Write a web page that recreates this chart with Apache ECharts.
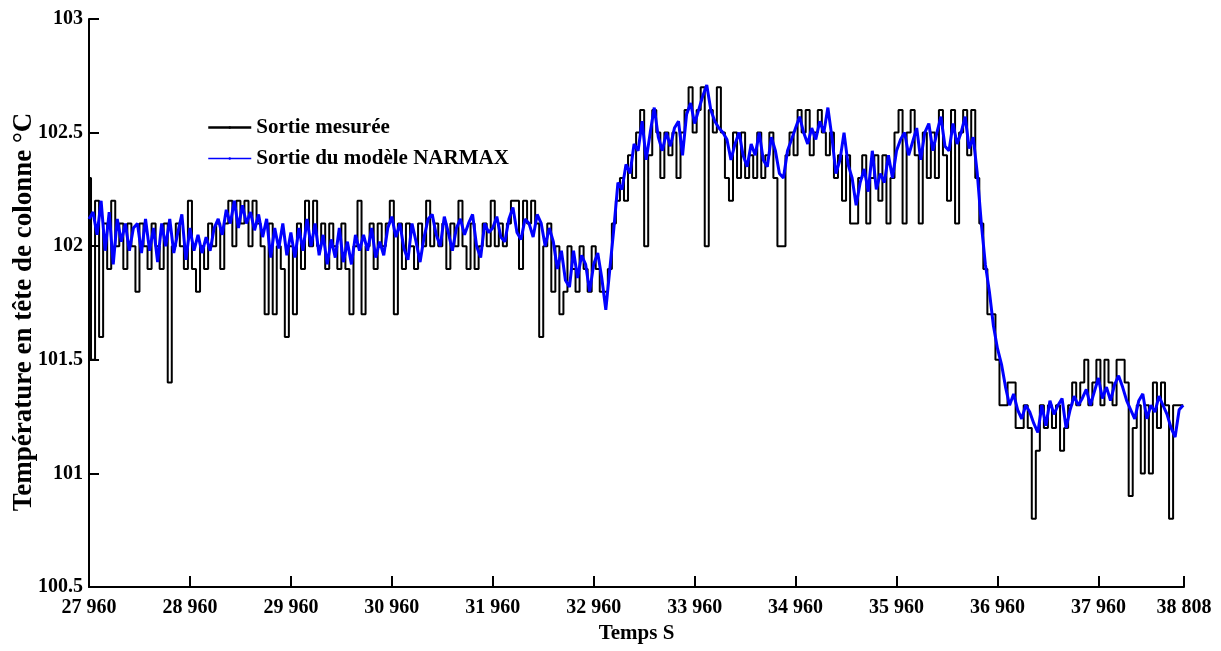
<!DOCTYPE html>
<html>
<head>
<meta charset="utf-8">
<title>Sortie mesurée / NARMAX</title>
<script src="https://cdn.jsdelivr.net/npm/echarts@6/dist/echarts.min.js"></script>
<style>
  html, body { margin: 0; padding: 0; background: #fff; }
  #chart { width: 1221px; height: 651px; }
</style>
</head>
<body>
<div id="chart"></div>
<script>
// temps d'échantillonnage (s)
var tStart = 27960;
var tStep = 40;

// sortie mesurée (°C)
var measured = [
  102.3, 101.5, 102.2, 101.6, 102.1, 101.9, 102.2, 102.0, 102.1, 101.9,
  102.1, 102.0, 101.8, 102.1, 102.0, 101.9, 102.1, 102.0, 101.9, 102.1,
  101.4, 102.0, 102.1, 102.0, 101.9, 102.2, 101.9, 101.8, 102.0, 101.9,
  102.1, 102.0, 102.1, 101.9, 102.1, 102.2, 102.0, 102.2, 102.1, 102.2,
  102.0, 102.2, 102.1, 102.0, 101.7, 102.1, 101.7, 102.0, 101.9, 101.6,
  102.0, 101.7, 102.1, 101.9, 102.2, 102.0, 102.2, 102.0, 102.1, 101.9,
  102.1, 102.0, 101.9, 102.1, 101.9, 101.7, 102.0, 102.2, 101.7, 102.0,
  102.1, 101.9, 102.1, 102.0, 102.1, 102.2, 101.7, 102.1, 101.9, 102.1,
  102.0, 101.9, 102.1, 102.0, 102.2, 102.0, 102.1, 102.0, 102.1, 101.9,
  102.1, 102.0, 102.2, 102.0, 101.9, 102.1, 101.9, 102.0, 102.1, 102.0,
  102.2, 102.0, 102.1, 102.0, 102.1, 102.2, 102.2, 101.9, 102.2, 102.1,
  102.2, 102.1, 101.6, 102.0, 102.1, 101.8, 102.0, 101.7, 101.8, 102.0,
  101.9, 101.8, 102.0, 101.9, 101.8, 102.0, 101.9, 101.8, 101.8, 101.9,
  102.1, 102.2, 102.3, 102.2, 102.4, 102.3, 102.5, 102.6, 102.0, 102.4,
  102.6, 102.5, 102.3, 102.5, 102.4, 102.5, 102.3, 102.5, 102.6, 102.7,
  102.5, 102.6, 102.7, 102.0, 102.6, 102.5, 102.7, 102.5, 102.3, 102.2,
  102.5, 102.3, 102.5, 102.3, 102.4, 102.3, 102.5, 102.3, 102.4, 102.5,
  102.3, 102.0, 102.0, 102.4, 102.5, 102.4, 102.6, 102.5, 102.6, 102.4,
  102.5, 102.6, 102.5, 102.4, 102.5, 102.3, 102.4, 102.2, 102.4, 102.1,
  102.1, 102.3, 102.4, 102.1, 102.3, 102.4, 102.2, 102.4, 102.1, 102.3,
  102.5, 102.6, 102.1, 102.5, 102.6, 102.4, 102.1, 102.5, 102.3, 102.5,
  102.3, 102.6, 102.4, 102.2, 102.6, 102.1, 102.5, 102.6, 102.4, 102.6,
  102.3, 102.1, 101.9, 101.7, 101.7, 101.5, 101.3, 101.3, 101.4, 101.4,
  101.2, 101.2, 101.3, 101.2, 100.8, 101.1, 101.3, 101.2, 101.3, 101.2,
  101.3, 101.1, 101.2, 101.3, 101.4, 101.3, 101.4, 101.5, 101.3, 101.4,
  101.5, 101.3, 101.5, 101.4, 101.3, 101.5, 101.5, 101.4, 100.9, 101.2,
  101.3, 101.0, 101.3, 101.0, 101.4, 101.2, 101.4, 101.3, 100.8, 101.3,
  101.3, 101.3
];

// sortie du modèle NARMAX (°C)
var narmax = [
  102.12, 102.15, 102.05, 102.2, 101.98, 102.15, 101.92, 102.12, 102.02, 102.1,
  101.98, 102.08, 102.1, 101.97, 102.12, 101.98, 102.08, 101.93, 102.1, 102.0,
  102.12, 101.97, 102.06, 102.14, 101.94, 102.08, 101.98, 102.05, 101.97, 102.04,
  101.98, 102.08, 102.12, 102.05, 102.16, 102.1, 102.2, 102.08, 102.18, 102.1,
  102.15, 102.07, 102.14, 102.04, 102.12, 101.95, 102.08, 101.99, 102.1, 101.96,
  102.06, 101.95, 102.08, 101.98, 102.12, 102.0, 102.1, 101.96, 102.05, 101.92,
  102.03, 101.95, 102.08, 101.93, 102.02, 101.92, 102.05, 101.98, 102.05, 101.98,
  102.08, 101.95, 102.02, 101.96, 102.08, 102.13, 102.04, 102.1, 101.99, 101.94,
  102.1, 102.02, 101.93, 102.04, 102.12, 102.14, 102.05, 102.0, 102.13, 102.06,
  101.98, 102.08, 102.12, 102.05, 102.1, 102.14, 102.0, 101.95, 102.1, 102.06,
  102.08, 102.13, 102.04, 102.02, 102.12, 102.17, 102.06, 102.03, 102.12, 102.1,
  102.04, 102.14, 102.1, 102.0, 102.08, 102.02, 101.9, 101.98, 101.85, 101.82,
  101.98, 101.86, 101.96, 101.92, 101.8, 101.92, 101.97, 101.86, 101.72, 101.9,
  102.08, 102.28, 102.25, 102.36, 102.32, 102.45, 102.42, 102.55, 102.38, 102.5,
  102.61, 102.48, 102.42, 102.5, 102.44, 102.52, 102.55, 102.4, 102.58, 102.63,
  102.54, 102.6, 102.66, 102.71, 102.6, 102.55, 102.52, 102.5, 102.47, 102.38,
  102.45, 102.5, 102.4, 102.35, 102.45, 102.4, 102.5, 102.38, 102.35, 102.48,
  102.42, 102.32, 102.3, 102.42, 102.47, 102.52, 102.57, 102.5, 102.45, 102.52,
  102.47, 102.55, 102.5, 102.61, 102.48, 102.32, 102.38, 102.5, 102.36, 102.3,
  102.18, 102.28, 102.34, 102.24, 102.42, 102.25, 102.32, 102.28, 102.4, 102.3,
  102.42, 102.47, 102.5, 102.4, 102.46, 102.52, 102.38, 102.5, 102.54, 102.42,
  102.5, 102.57, 102.44, 102.42, 102.54, 102.45, 102.5, 102.57, 102.43, 102.48,
  102.32, 102.1, 101.92, 101.8, 101.65, 101.55, 101.48, 101.38, 101.3, 101.35,
  101.28, 101.24, 101.3, 101.27, 101.22, 101.18, 101.3, 101.21, 101.32, 101.26,
  101.3, 101.33, 101.2, 101.28, 101.34, 101.3, 101.33, 101.37, 101.3, 101.36,
  101.42, 101.33, 101.38, 101.32, 101.39, 101.43, 101.38, 101.32, 101.28, 101.24,
  101.32, 101.35, 101.24, 101.3, 101.27, 101.34, 101.3, 101.26, 101.2, 101.16,
  101.28, 101.3
];

var xMin = 27960, xMax = 38808;
var yMin = 100.5, yMax = 103;

function pairs(vals) {
  return vals.map(function (v, i) { return [tStart + i * tStep, v]; });
}

// "27960" -> "27 960"
function fmtThousands(v) {
  return String(Math.round(v)).replace(/\B(?=(\d{3})+$)/g, ' ');
}

var font = 'Liberation Serif, Times New Roman, serif';
var chart = echarts.init(document.getElementById('chart'));

var option = {
  animation: false,
  backgroundColor: '#fff',
  grid: { left: 89, right: 37, top: 19, bottom: 64, containLabel: false, outerBoundsMode: 'none' },
  legend: {
    orient: 'vertical',
    left: 202,
    top: 112,
    itemWidth: 43,
    itemHeight: 3,
    itemGap: 10,
    textStyle: { fontFamily: font, fontWeight: 'bold', fontSize: 21, color: '#000', lineHeight: 21 },
    data: [
      { name: 'Sortie mesurée', itemStyle: { borderWidth: 0 }, lineStyle: { width: 2.5 } },
      { name: 'Sortie du modèle NARMAX', itemStyle: { borderWidth: 0 }, lineStyle: { width: 1.5 } }
    ]
  },
  xAxis: {
    type: 'value',
    min: xMin,
    max: xMax,
    interval: 1000,
    name: 'Temps S',
    nameLocation: 'middle',
    nameGap: 36,
    nameMoveOverlap: false,
    nameTextStyle: { fontFamily: font, fontWeight: 'bold', fontSize: 21, color: '#000' },
    axisLine: { show: true, lineStyle: { color: '#000', width: 2 } },
    axisTick: { show: true, inside: true, length: 11, lineStyle: { color: '#000', width: 2 } },
    axisLabel: {
      show: true, margin: 11, showMinLabel: true, showMaxLabel: true,
      fontFamily: font, fontWeight: 'bold', fontSize: 20, color: '#000',
      formatter: fmtThousands
    },
    splitLine: { show: false }
  },
  yAxis: {
    type: 'value',
    min: yMin,
    max: yMax,
    interval: 0.5,
    name: 'Température en tête de colonne °C',
    nameLocation: 'middle',
    nameGap: 51,
    nameRotate: 90,
    nameMoveOverlap: false,
    nameTextStyle: { fontFamily: font, fontWeight: 'bold', fontSize: 27, color: '#000', padding: [0, 18, 0, 0] },
    axisLine: { show: true, lineStyle: { color: '#000', width: 2 } },
    axisTick: { show: true, inside: true, length: 10, lineStyle: { color: '#000', width: 2 } },
    axisLabel: { show: true, margin: 6, fontFamily: font, fontWeight: 'bold', fontSize: 20, color: '#000' },
    splitLine: { show: false }
  },
  series: [
    {
      name: 'Sortie mesurée',
      type: 'line',
      step: 'middle',
      symbol: 'none',
      data: pairs(measured),
      lineStyle: { color: '#000', width: 2 },
      itemStyle: { color: '#000' },
      z: 2
    },
    {
      name: 'Sortie du modèle NARMAX',
      type: 'line',
      symbol: 'none',
      data: pairs(narmax),
      lineStyle: { color: '#0000ff', width: 3 },
      itemStyle: { color: '#0000ff' },
      z: 3
    }
  ]
};

chart.setOption(option);
</script>
</body>
</html>
